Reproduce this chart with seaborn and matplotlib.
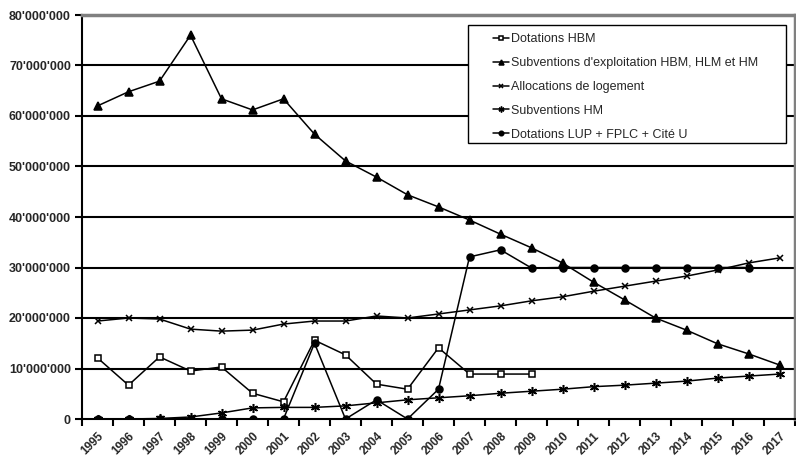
import numpy as np
import pandas as pd
import matplotlib
matplotlib.use("Agg")
import matplotlib.pyplot as plt
from matplotlib.patches import Rectangle
from matplotlib.ticker import FuncFormatter, FixedLocator
import seaborn as sns

years = [str(y) for y in range(1995, 2018)]

dotations_hbm = [12.1, 6.7, 12.3, 9.5, 10.3, 5.1, 3.4, 15.6, 12.7, 6.9, 5.9, 14.1,
                 8.9, 8.9, 8.9]
subv_exploitation = [62.0, 64.8, 66.9, 76.0, 63.4, 61.2, 63.4, 56.4, 51.1, 47.9, 44.4,
                     42.0, 39.4, 36.6, 33.9, 30.9, 27.1, 23.6, 20.0, 17.6, 14.9, 12.9, 10.7]
allocations = [19.4, 20.0, 19.8, 17.8, 17.4, 17.6, 18.8, 19.4, 19.4, 20.4, 20.0, 20.8,
               21.6, 22.4, 23.4, 24.2, 25.3, 26.3, 27.3, 28.3, 29.5, 30.9, 31.9]
subv_hm = [0.0, 0.0, 0.1, 0.4, 1.2, 2.2, 2.3, 2.3, 2.6, 3.2, 3.8, 4.2, 4.6, 5.1, 5.5,
           5.9, 6.4, 6.7, 7.1, 7.5, 8.1, 8.5, 8.9]
dotations_lup = [0.0, 0.0, 0.0, 0.0, 0.0, 0.0, 0.0, 15.0, 0.0, 3.8, 0.0, 5.9, 32.1,
                 33.5, 29.9, 30.0, 30.0, 30.0, 30.0, 30.0, 30.0, 30.0]

series = [
    ("Dotations HBM", dotations_hbm, "s", "white", 5),
    ("Subventions d'exploitation HBM, HLM et HM", subv_exploitation, "^", "black", 5.5),
    ("Allocations de logement", allocations, "x", "black", 5),
    ("Subventions HM", subv_hm, (6, 2, 0), "black", 6.5),
    ("Dotations LUP + FPLC + Cité U", dotations_lup, "o", "black", 5),
]

sns.set_style("white")
plt.rcParams["font.family"] = ["Liberation Sans", "DejaVu Sans"]

fig = plt.figure(figsize=(7.96, 4.61), dpi=100)
ax = fig.add_axes([82 / 796, 42 / 461, 713 / 796, 404 / 461])

for name, vals, marker, face, size in series:
    df = pd.DataFrame({"pos": np.arange(len(vals)),
                       "value": np.array(vals) * 1e6})
    sns.lineplot(data=df, x="pos", y="value", ax=ax, color="black", lw=1.1,
                 marker=marker, markersize=size, markerfacecolor=face,
                 markeredgecolor="black", markeredgewidth=1.1, label=name,
                 zorder=3)

ax.set_xlim(-0.5, len(years) - 0.5)
ax.set_ylim(0, 80e6)

ax.set_xticks(np.arange(len(years)))
ax.set_xticklabels(years, rotation=45, ha="right", rotation_mode="anchor",
                   fontsize=8.5, fontweight="bold")
ax.xaxis.set_minor_locator(FixedLocator(np.arange(-0.5, len(years), 1.0)))
ax.tick_params(axis="x", which="major", length=0, pad=8)
ax.tick_params(axis="x", which="minor", length=5, width=1.5, color="black",
               direction="out", bottom=True)

ax.set_yticks(np.arange(0, 80e6 + 1, 10e6))
ax.yaxis.set_major_formatter(
    FuncFormatter(lambda v, _: "0" if v == 0 else f"{int(v):,}".replace(",", "'")))
ax.tick_params(axis="y", length=5, width=1.5, color="black", direction="out",
               left=True, labelsize=9, pad=3)
for lbl in ax.get_yticklabels():
    lbl.set_fontweight("bold")

for v in np.arange(10e6, 80e6, 10e6):
    ax.axhline(v, color="black", lw=1.5, zorder=1)

ax.set_xlabel("")
ax.set_ylabel("")

for side in ("left", "bottom"):
    ax.spines[side].set_color("black")
    ax.spines[side].set_linewidth(1.5)
for side in ("top", "right"):
    ax.spines[side].set_visible(True)
    ax.spines[side].set_color("#808080")
    ax.spines[side].set_linewidth(2.5)

# Legend box drawn as its own white frame, entries placed inside it
ax.add_patch(Rectangle((0.541, 0.683), 0.987 - 0.541, 0.975 - 0.683,
                       transform=ax.transAxes, facecolor="white",
                       edgecolor="black", lw=1.0, zorder=4))
leg = ax.legend(loc="upper left", bbox_to_anchor=(0.576, 0.955),
                borderaxespad=0, borderpad=0, frameon=False, fontsize=9,
                labelspacing=0.95, handlelength=1.3, handletextpad=0.15,
                markerscale=0.65)
leg.set_zorder(5)

fig.savefig("out.png", dpi=100)
